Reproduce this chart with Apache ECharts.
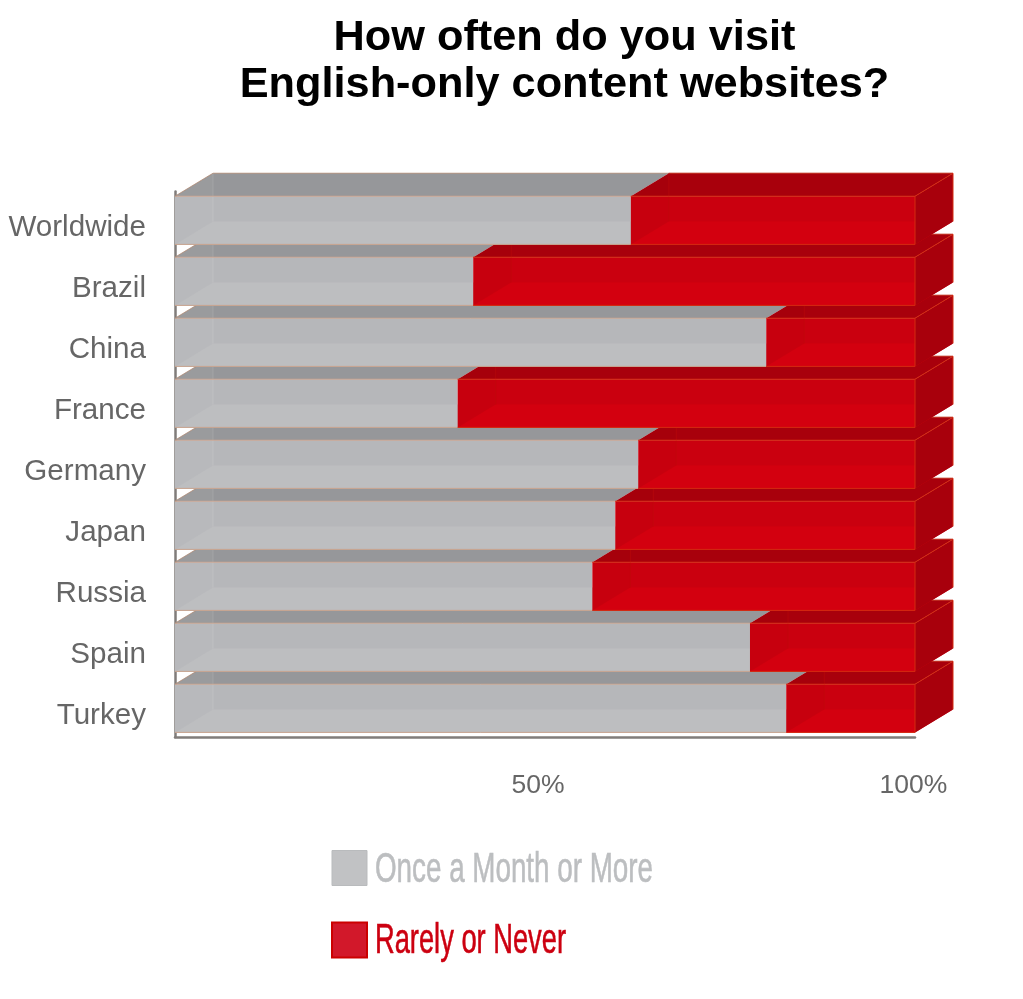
<!DOCTYPE html>
<html>
<head>
<meta charset="utf-8">
<style>html,body{margin:0;padding:0;background:#fff;overflow:hidden}#c{width:1023px;height:999px}</style>
<script src="https://cdn.jsdelivr.net/npm/echarts@6/dist/echarts.min.js"></script>
</head>
<body>
<div id="c"></div>
<script>
const categories = ['Worldwide','Brazil','China','France','Germany','Japan','Russia','Spain','Turkey'];
const onceValues = [61.6,40.3,79.9,38.2,62.6,59.5,56.4,77.7,82.6];
const rarelyValues = [38.4,59.7,20.1,61.8,37.4,40.5,43.6,22.3,17.4];
const tickLabels = {50:'{a|50%}',100:'{b|100%}'};
const titleText = 'How often do you visit\nEnglish-only content websites?';
const seriesNames = ['Once a Month or More','Rarely or Never'];

const palette = {
  once:{top:'#96979a',front:'#b6b7ba',bottom:'#bdbec0',side:'#a3a4a7',left:'rgba(255,255,255,0.04)',seam:'rgba(255,255,255,0.12)',edge:'#c9a48f',back:'rgba(170,125,100,0.7)'},
  rarely:{top:'#a8000c',front:'#ca000f',bottom:'#d3000f',side:'#a8000c',left:'rgba(0,0,0,0.012)',seam:'rgba(190,10,10,0.5)',edge:'#d42a10',back:'#bc2010'}
};
const DX = 38, DY = 23;

function box(key, layer){
  const c = palette[key];
  return function(params, api){
    const i = api.value(0);
    const x0 = api.coord([api.value(1), i])[0];
    const x1 = api.coord([api.value(2), i])[0];
    const cy = api.coord([0, i])[1]+0.3;
    const h = api.size([0,1])[1]*0.79;
    const t = cy-h/2, b = cy+h/2;
    const base = (categories.length-i)*20+layer;
    const poly = (pts,fill,z)=>({type:'polygon',z2:base+z,shape:{points:pts},style:{fill:fill}});
    const seg = (a,b2,color,z)=>({type:'line',z2:base+z,shape:{x1:a[0],y1:a[1],x2:b2[0],y2:b2[1]},style:{stroke:color,lineWidth:1}});
    const kids = [
      poly([[x0,t],[x0+DX,t-DY],[x1+DX,t-DY],[x1,t]],c.top,0),
      poly([[x0,t],[x1,t],[x1,b],[x0,b]],c.front,1),
      poly([[x0,b],[x1,b],[x1+DX,b-DY],[x0+DX,b-DY]],c.bottom,2),
      poly([[x0,t],[x0+DX,t-DY],[x0+DX,b-DY],[x0,b]],c.left,3),
      seg([x0+DX,t-DY],[x0+DX,b-DY],c.seam,3),
      seg([x0,t],[x1,t],c.edge,5),
      seg([x0,b],[x1,b],c.edge,5),
      seg([x0+DX,t-DY],[x1+DX,t-DY],c.back,1)
    ];
    if(key==='rarely'){
      kids.push(poly([[x1,t],[x1+DX,t-DY],[x1+DX,b-DY],[x1,b]],c.side,4));
      kids.push({type:'polyline',z2:base+6,shape:{points:[[x1,b],[x1,t],[x1+DX,t-DY],[x1+DX,b-DY]]},style:{stroke:c.edge,lineWidth:1,fill:null}});
    } else {
      kids.push(seg([x0,t],[x0+DX,t-DY],c.back,1));
    }
    return {type:'group',children:kids};
  };
}

const onceData = categories.map((n,i)=>[i,0,onceValues[i]]);
const rarelyData = categories.map((n,i)=>[i,onceValues[i],onceValues[i]+rarelyValues[i]]);

function textWidth(text,font){
  const ctx = document.createElement('canvas').getContext('2d');
  ctx.font = font;
  return ctx.measureText(text).width;
}
const legendFont = '43px "Liberation Sans"';
function legendText(text,x,y,width,color){
  return {type:'text',x:x,y:y,scaleX:width/textWidth(text,legendFont),z:10,
    style:{text:text,fontFamily:'Liberation Sans',fontSize:43,fill:color,stroke:color,lineWidth:0.6,verticalAlign:'middle',align:'left'}};
}

const chart = echarts.init(document.getElementById('c'),null,{renderer:'canvas',width:1023,height:999});
chart.setOption({
  animation:false,
  backgroundColor:'#fff',
  title:{text:titleText,left:559.5,top:10,textAlign:'center',
    textStyle:{fontFamily:'Liberation Sans',fontSize:43.3,fontWeight:'bold',color:'#000',lineHeight:47}},
  legend:{orient:'vertical',left:331,top:850,padding:0,itemWidth:35,itemHeight:35,itemGap:35.5,
    selectedMode:false,formatter:()=>'',
    data:[
      {name:seriesNames[0],icon:'rect',itemStyle:{color:'#c1c2c4',borderColor:'#b9bbbd',borderWidth:1}},
      {name:seriesNames[1],icon:'rect',itemStyle:{color:'#d2182a',borderColor:'#cc0000',borderWidth:2}}
    ]},
  graphic:[
    legendText(seriesNames[0],375,870,278,'#bcbec0'),
    legendText(seriesNames[1],375,941,191,'#cc0010')
  ],
  grid:[
    {left:175,width:740,top:189.5,height:549},
    {left:175,width:740,top:191.5,height:545.5}
  ],
  xAxis:[
    {type:'value',gridIndex:0,min:0,max:100,interval:50,
      axisLine:{show:false},axisTick:{show:false},splitLine:{show:false},
      axisLabel:{margin:34,formatter:v=>tickLabels[v]||'',
        rich:{a:{fontFamily:'Liberation Sans',fontSize:26.5,color:'#666',padding:[0,14,0,0]},
              b:{fontFamily:'Liberation Sans',fontSize:26.5,color:'#666',padding:[0,3,0,0]}}}},
    {type:'value',gridIndex:1,min:0,max:100,
      axisLine:{show:true,lineStyle:{color:'#807c7a',width:2.5}},
      axisTick:{show:false},splitLine:{show:false},axisLabel:{show:false}}
  ],
  yAxis:[
    {type:'category',gridIndex:0,inverse:true,data:categories,
      axisLine:{show:false},axisTick:{show:false},splitLine:{show:false},
      axisLabel:{margin:29,formatter:v=>'{a|'+v+'}',
        rich:{a:{fontFamily:'Liberation Sans',fontSize:29.6,color:'#666',padding:[15,0,0,0]}}}},
    {type:'value',gridIndex:1,min:0,max:100,
      axisLine:{show:true,lineStyle:{color:'#807c7a',width:2.5}},
      axisTick:{show:false},splitLine:{show:false},axisLabel:{show:false}}
  ],
  series:[
    {name:seriesNames[0],type:'custom',renderItem:box('once',0),encode:{x:[1,2],y:0},data:onceData,clip:false,itemStyle:{color:'#c1c2c4'}},
    {name:seriesNames[1],type:'custom',renderItem:box('rarely',8),encode:{x:[1,2],y:0},data:rarelyData,clip:false,itemStyle:{color:'#d2182a'}}
  ]
});
</script>
</body>
</html>
